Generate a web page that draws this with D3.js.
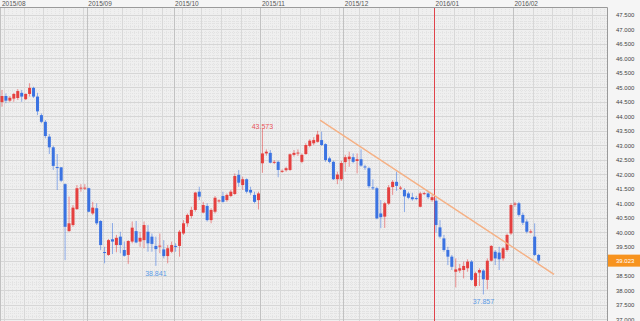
<!DOCTYPE html>
<html>
<head>
<meta charset="utf-8">
<script src="https://cdn.jsdelivr.net/npm/d3@7"></script>
<style>
html, body { margin: 0; padding: 0; background: #f5f5f5; }
svg { display: block; font-family: "Liberation Sans", Arial, sans-serif; }
</style>
</head>
<body>
<svg id="chart" width="640" height="321"></svg>
<script>
// daily candles, one per trading day (index 0 = first day shown)
const opens = [44.49,44.70,44.54,44.61,44.63,44.81,44.59,44.77,44.98,44.68,44.04,43.81,43.30,42.93,42.25,42.24,41.66,40.04,40.25,40.80,
  41.52,41.52,41.52,40.65,40.83,40.39,39.32,39.22,39.76,39.56,39.85,39.39,39.22,39.68,40.04,39.68,39.73,40.02,39.85,39.53,
  39.51,39.41,39.18,39.33,39.53,39.53,39.96,40.31,40.56,40.77,41.40,40.68,40.91,40.42,40.71,41.08,41.25,41.11,41.25,41.32,
  41.98,41.63,41.83,41.46,41.29,41.11,42.38,42.72,42.74,42.41,42.43,42.09,42.14,42.15,42.67,42.73,42.43,42.70,42.98,43.07,
  43.12,43.18,43.04,42.55,42.43,41.83,41.83,42.42,42.52,42.59,42.46,42.52,42.27,42.21,41.55,41.52,40.65,40.54,40.99,41.56,
  41.74,41.52,41.46,41.34,41.21,41.18,40.88,41.33,41.34,41.11,41.09,40.17,39.79,39.39,39.16,38.64,38.68,38.70,38.76,38.99,
  38.15,38.61,38.68,38.36,39.02,39.33,39.30,39.10,39.39,39.96,40.97,41.00,40.60,40.37,40.01,39.85,39.22];
const highs = [44.91,44.79,44.70,44.81,44.94,44.91,44.79,45.14,45.02,44.81,44.10,43.87,43.39,42.98,42.70,42.25,41.69,41.23,40.94,41.63,
  41.66,41.66,41.54,41.05,41.00,40.42,39.50,39.77,40.32,39.91,40.02,39.68,39.73,40.37,40.39,40.02,40.37,40.25,39.96,39.85,
  39.96,39.73,39.56,39.68,39.62,40.08,40.42,40.65,40.88,41.40,41.57,41.05,41.00,40.83,41.25,41.14,41.40,41.34,41.46,42.03,
  42.15,41.92,41.86,41.57,41.40,41.40,43.573,42.86,42.84,42.49,42.47,42.17,42.26,42.72,42.84,42.86,42.72,43.07,43.21,43.28,
  43.50,43.47,43.07,42.61,42.47,42.09,42.46,42.67,42.78,42.72,42.72,42.86,42.33,42.26,41.83,41.57,41.11,41.05,41.63,41.80,
  42.09,41.60,41.52,41.40,41.36,41.25,41.40,41.40,41.43,41.29,41.19,40.42,39.91,39.50,39.22,39.10,38.91,38.99,39.07,39.04,
  38.64,38.76,38.73,39.10,39.56,39.39,39.50,39.50,39.96,41.00,41.05,41.05,40.68,40.45,40.10,40.31,39.25];
const lows = [44.33,44.45,44.49,44.50,44.56,44.50,44.56,44.68,44.63,44.04,43.76,43.24,42.70,42.15,41.46,41.73,39.04,40.02,40.19,40.77,
  41.40,41.46,40.69,40.60,40.25,39.39,38.93,39.19,39.25,39.31,39.28,39.16,38.91,39.62,39.62,39.50,39.45,39.33,39.33,38.841,
  39.28,39.10,38.93,39.28,39.33,39.16,39.91,40.19,40.48,40.71,41.11,40.65,40.37,40.31,40.65,41.02,41.02,41.05,41.21,41.29,
  41.57,41.46,41.34,41.29,41.00,40.79,42.05,42.64,42.38,42.35,41.90,42.05,42.09,42.12,42.61,42.63,42.38,42.67,42.93,43.01,
  43.09,42.98,42.43,42.38,41.80,41.66,41.77,42.09,42.26,42.38,42.03,42.26,42.15,41.52,41.46,40.45,40.14,40.15,40.94,41.29,
  41.43,41.46,40.70,41.14,41.09,41.11,40.86,41.29,41.14,41.05,39.99,39.79,39.33,38.87,38.70,38.10,38.60,38.41,38.64,38.33,
  38.10,38.15,37.857,38.03,38.99,38.87,38.70,39.02,39.33,39.91,40.88,40.54,40.25,39.96,39.96,39.18,38.93];
const closes = [44.70,44.54,44.64,44.77,44.87,44.68,44.77,44.98,44.68,44.17,43.81,43.32,42.93,42.29,42.23,41.78,40.19,40.31,40.85,41.52,
  41.54,41.54,40.71,40.85,40.31,39.56,39.30,39.73,39.68,39.81,39.56,39.19,39.70,40.16,39.65,39.81,40.25,39.62,39.60,39.42,
  39.54,39.18,39.45,39.56,39.50,40.02,40.31,40.60,40.77,41.37,41.23,40.94,40.42,40.77,41.19,41.10,41.05,41.29,41.40,41.94,
  41.71,41.83,41.40,41.37,41.05,41.34,42.72,42.78,42.40,42.43,42.15,42.12,42.21,42.69,42.74,42.75,42.67,43.01,43.16,43.18,
  43.37,43.01,42.49,42.43,41.83,41.99,42.39,42.59,42.61,42.43,42.52,42.30,42.25,41.59,41.53,40.48,40.52,41.00,41.55,41.74,
  41.60,41.54,41.24,41.19,41.14,41.16,41.34,41.35,41.21,41.21,40.25,39.85,39.39,39.16,38.81,38.72,38.76,38.84,38.99,38.36,
  38.59,38.70,38.38,39.02,39.53,39.10,39.07,39.45,39.91,40.94,40.99,40.60,40.33,40.02,40.03,39.22,39.023];

// month labels along the top and the candle index where each month begins
const monthLabels = ["2015/08", "2015/09", "2015/10", "2015/11", "2015/12", "2016/01", "2016/02"];
const monthStarts = [0, 22, 44, 66, 87, 110, 130];

// price axis ticks
const priceTicks = [37.0,37.5,38.0,38.5,39.0,39.5,40.0,40.5,41.0,41.5,42.0,42.5,43.0,43.5,44.0,44.5,45.0,45.5,46.0,46.5,47.0,47.5];

// hand-drawn trend line: [candle position, price]
const trendLine = [[81.1, 43.87], [140.4, 38.55]];

// marked extremes: [candle index, price, "high"|"low"]
const marks = [[66, 43.573, "high"], [39, 38.841, "low"], [122, 37.857, "low"]];

const lastPrice = 39.023;

const svg = d3.select("#chart");
const plotTop = 7, plotRight = 607, H = 321;

const x = d3.scaleLinear().domain([0, 154]).range([0, 154 * 3.946]);
const y = d3.scaleLinear().domain([37, 47.5]).range([319.3, 14.8]);

// plot background
svg.append("rect").attr("x", 0).attr("y", plotTop).attr("width", plotRight).attr("height", H - plotTop)
    .attr("fill", "#efefef");

const grid = svg.append("g");

// fine dotted grid
grid.selectAll(".hmin").data(d3.range(370, 476).map(d => d / 10)).enter().append("line")
    .attr("x1", 0).attr("x2", plotRight)
    .attr("y1", d => Math.round(y(d)) + 0.5).attr("y2", d => Math.round(y(d)) + 0.5)
    .attr("stroke", "#e2e2e2").attr("stroke-dasharray", "1,1");
grid.selectAll(".vmin").data(d3.range(0, 154)).enter().append("line")
    .attr("x1", d => Math.round(x(d)) + 0.5).attr("x2", d => Math.round(x(d)) + 0.5)
    .attr("y1", plotTop).attr("y2", H)
    .attr("stroke", "#e4e4e4").attr("stroke-dasharray", "1,1");

// price lines
grid.selectAll(".hmaj").data(priceTicks).enter().append("line")
    .attr("x1", 0).attr("x2", plotRight)
    .attr("y1", d => Math.round(y(d)) + 0.5).attr("y2", d => Math.round(y(d)) + 0.5)
    .attr("stroke", "#d6d6d6");

// weekly lines
const weekLines = d3.range(1, 107, 5).concat(d3.range(110, 154, 5));
grid.selectAll(".week").data(weekLines).enter().append("line")
    .attr("x1", d => Math.round(x(d)) + 0.5).attr("x2", d => Math.round(x(d)) + 0.5)
    .attr("y1", plotTop).attr("y2", H)
    .attr("stroke", "#d8d8d8");

// month lines, year change in red
grid.selectAll(".month").data(monthStarts).enter().append("line")
    .attr("x1", d => Math.round(x(d)) + 0.5).attr("x2", d => Math.round(x(d)) + 0.5)
    .attr("y1", plotTop).attr("y2", H)
    .attr("stroke", (d, i) => monthLabels[i].endsWith("/01") ? "#e0434a" : "#c2c2c2");

// month labels
svg.selectAll(".mlabel").data(monthStarts).enter().append("text")
    .attr("x", d => Math.max(2, x(d) + 1.5)).attr("y", 6)
    .attr("font-size", 6.5).attr("fill", "#555")
    .text((d, i) => monthLabels[i]);

// candles
const candles = d3.range(closes.length).map(i => ({i: i, o: opens[i], h: highs[i], l: lows[i], c: closes[i]}));
const upColor = "#e5403f", downColor = "#3b73e2";
const cg = svg.append("g").selectAll("g").data(candles).enter().append("g");

cg.append("line")
    .attr("x1", d => x(d.i + 0.5)).attr("x2", d => x(d.i + 0.5))
    .attr("y1", d => y(d.h)).attr("y2", d => y(d.l))
    .attr("stroke", d => d.c >= d.o ? upColor : downColor)
    .attr("stroke-opacity", 0.55).attr("stroke-width", 1);

cg.append("rect")
    .attr("x", d => x(d.i + 0.5) - 1.5).attr("width", 3)
    .attr("y", d => y(Math.max(d.o, d.c)))
    .attr("height", d => Math.max(1, Math.abs(y(d.o) - y(d.c))))
    .attr("fill", d => d.c >= d.o ? upColor : downColor);

// trend line
svg.append("path")
    .attr("d", d3.line().x(d => x(d[0])).y(d => y(d[1]))(trendLine))
    .attr("fill", "none").attr("stroke", "#f5b084").attr("stroke-width", 1.4);

// high / low marks
svg.selectAll(".mark").data(marks).enter().append("text")
    .attr("x", d => x(d[0] + 0.5))
    .attr("y", d => d[2] === "high" ? y(d[1]) : y(d[1]) + 10)
    .attr("text-anchor", "middle").attr("font-size", 7)
    .attr("fill", d => d[2] === "high" ? "#e8555a" : "#5b9be6")
    .text(d => d3.format(".3f")(d[1]));

// plot frame
svg.append("path")
    .attr("d", `M0,${plotTop + 0.5}H${plotRight + 0.5}V${H}`)
    .attr("fill", "none").attr("stroke", "#9a9a9a");

// right price axis
const yAxis = svg.append("g").attr("transform", `translate(${plotRight},0)`)
    .call(d3.axisRight(y).tickValues(priceTicks).tickFormat(d3.format(".3f")).tickSize(0).tickPadding(9));
yAxis.select(".domain").remove();
yAxis.selectAll("text").attr("font-size", 6).attr("fill", "#444")
    .attr("font-family", "'Liberation Sans', Arial, sans-serif");

// last price tag
svg.append("rect").attr("x", plotRight + 1).attr("y", y(lastPrice) - 6).attr("width", 33).attr("height", 12)
    .attr("fill", "#f7931e");
svg.append("text").attr("x", plotRight + 9).attr("y", y(lastPrice) + 2.2)
    .attr("font-size", 6).attr("fill", "#fff").text(d3.format(".3f")(lastPrice));
</script>
</body>
</html>
